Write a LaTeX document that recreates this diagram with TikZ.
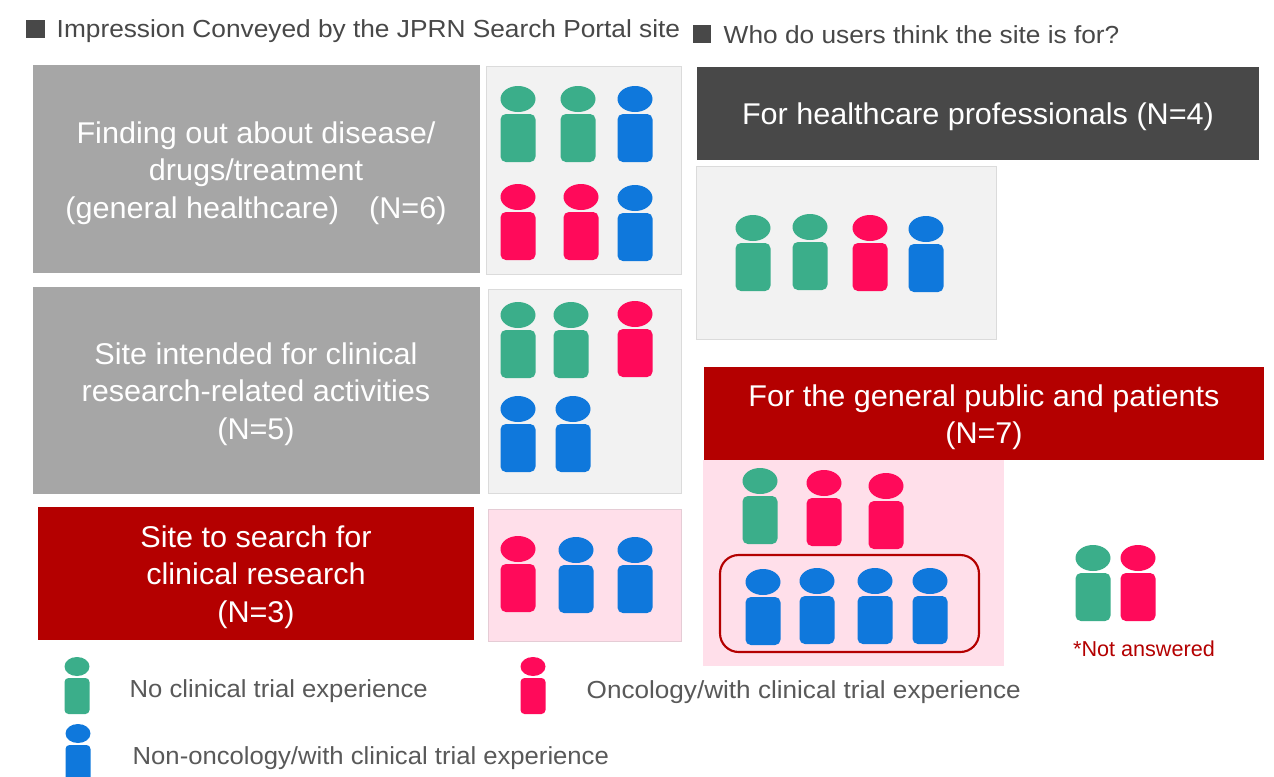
\documentclass[tikz,border=0pt]{standalone}
\usepackage{fontspec}
\setmainfont{Liberation Sans}
\newfontfamily\headfont[FakeStretch=1.065]{Liberation Sans}
\newfontfamily\boxfont[FakeStretch=1.02]{Liberation Sans}
\newfontfamily\legfont[FakeStretch=1.04]{Liberation Sans}
\newfontfamily\legwide[FakeStretch=1.059]{Liberation Sans}
\definecolor{cgreen}{HTML}{3BAE8A}
\definecolor{cpink}{HTML}{FF0A5A}
\definecolor{cblue}{HTML}{0F78DC}
\definecolor{cred}{HTML}{B40000}
\definecolor{cdark}{HTML}{484848}
\definecolor{cgray}{HTML}{A6A6A6}
\definecolor{clight}{HTML}{F2F2F2}
\definecolor{cpale}{HTML}{FFDFEA}
\definecolor{ctext}{HTML}{595959}
\newcommand{\person}[3]{% cx, top y, colour
  \fill[#3] (#1,#2+13) ellipse [x radius=17.5, y radius=13];
  \fill[#3,rounded corners=4] (#1-17.5,#2+28) rectangle (#1+17.5,#2+76);
}
\newcommand{\smallperson}[3]{%
  \fill[#3] (#1,#2+9.5) ellipse [x radius=12.5, y radius=9.5];
  \fill[#3,rounded corners=3] (#1-12.5,#2+21) rectangle (#1+12.5,#2+57);
}
\tikzset{
  pic scale/.style={x=0.75pt,y=-0.75pt},
  boxtext/.style={text=white,font=\boxfont\fontsize{22.5}{28}\selectfont,align=center,anchor=center},
  head/.style={text=cdark,font=\headfont\fontsize{18.5}{22}\selectfont,anchor=west},
  legend/.style={text=ctext,font=\legfont\fontsize{18.5}{22}\selectfont,anchor=west},
  legendw/.style={text=ctext,font=\legwide\fontsize{18.5}{22}\selectfont,anchor=west},
}
\begin{document}
\begin{tikzpicture}[pic scale]
\useasboundingbox (0,0) rectangle (1274,776);
\fill[white] (0,0) rectangle (1274,776);
% headings
\fill[cdark] (26,20) rectangle (45,38);
\node[head] (h1) at (52,31) {Impression Conveyed by the JPRN Search Portal site};
\fill[cdark] (693,25) rectangle (711,43);
\node[head] (h2) at (719,35) {Who do users think the site is for?};
% left boxes
\fill[cgray] (33,65) rectangle (480,273);
\node[boxtext] (a) at (256,173) {Finding out about disease/\\drugs/treatment\\(general healthcare)\quad(N=6)};
\fill[cgray] (33,287) rectangle (480,494);
\node[boxtext] (b) at (256,394) {Site intended for clinical\\research-related activities\\(N=5)};
\fill[cred] (38,507) rectangle (474,640);
\node[boxtext] (c) at (256,577) {Site to search for\\clinical research\\(N=3)};
% left panels
\draw[clight!80!gray,fill=clight,line width=0.75pt] (486.5,66) rectangle (681,274);
\draw[clight!80!gray,fill=clight,line width=0.75pt] (488.5,289) rectangle (681.5,493);
\draw[cpale!80!gray,fill=cpale,line width=0.75pt] (488.5,509) rectangle (681.5,641);
\person{518}{86}{cgreen}\person{578}{86}{cgreen}\person{635}{86}{cblue}
\person{518}{184}{cpink}\person{581}{184}{cpink}\person{635}{185}{cblue}
\person{518}{302}{cgreen}\person{571}{302}{cgreen}\person{635}{301}{cpink}
\person{518}{396}{cblue}\person{573}{396}{cblue}
\person{518}{536}{cpink}\person{576}{537}{cblue}\person{635}{537}{cblue}
% right top
\fill[cdark] (697,67) rectangle (1259,160);
\node[boxtext] (d) at (978,117) {For healthcare professionals (N=4)};
\draw[clight!80!gray,fill=clight,line width=0.75pt] (696.5,166) rectangle (996,339);
\person{753}{215}{cgreen}\person{810}{214}{cgreen}\person{870}{215}{cpink}\person{926}{216}{cblue}
% right bottom
\fill[cpale] (703,460) rectangle (1004,666);
\fill[cred] (704,367) rectangle (1264,460);
\node[boxtext] (e) at (984,417) {For the general public and patients\\(N=7)};
\person{760}{468}{cgreen}\person{824}{470}{cpink}\person{886}{473}{cpink}
\draw[cred,line width=1.6pt,rounded corners=14] (720,555) rectangle (979,652);
\person{763}{569}{cblue}\person{817}{568}{cblue}\person{875}{568}{cblue}\person{930}{568}{cblue}
% not answered
\person{1093}{545}{cgreen}\person{1138}{545}{cpink}
\node[text=cred,font=\fontsize{16.2}{20}\selectfont] (f) at (1144,649) {*Not answered};
% legend
\smallperson{77}{657}{cgreen}
\node[legend] (l1) at (125,691) {No clinical trial experience};
\smallperson{533}{657}{cpink}
\node[legendw] (l2) at (582,692) {Oncology/with clinical trial experience};
\smallperson{78}{724}{cblue}
\node[legend] (l3) at (128,758) {Non-oncology/with clinical trial experience};
\end{tikzpicture}
\end{document}
